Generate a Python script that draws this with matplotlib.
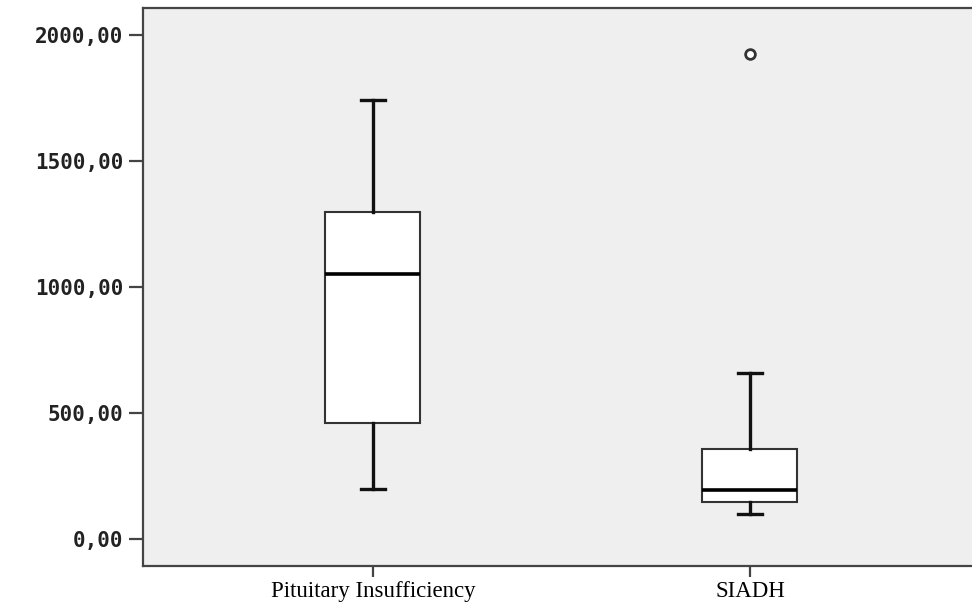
import matplotlib
matplotlib.use('Agg')
import matplotlib.pyplot as plt
from matplotlib.ticker import FuncFormatter

# groups and box statistics
groups = ['Pituitary Insufficiency', 'SIADH']
whislo = [200, 99]
q1 = [460, 146]
med = [1050, 193]
q3 = [1296, 358]
whishi = [1742, 658]
outliers = [[], [1925]]
yticks = [0, 500, 1000, 1500, 2000]

stats = []
for i in range(len(groups)):
    stats.append(dict(label=groups[i], whislo=whislo[i], q1=q1[i], med=med[i],
                      q3=q3[i], whishi=whishi[i], fliers=outliers[i]))

fig = plt.figure(figsize=(9.72, 6.10), dpi=100)
# axes in pixel terms: left 143, top 8, bottom 566, right runs off the image
ax = fig.add_axes([143/972, (610-566)/610, (972-143)/972, (566-8)/610])
ax.set_facecolor('#efefef')

ax.bxp(stats, positions=[0, 1], widths=0.252, patch_artist=True,
       showcaps=True, capwidths=0.063,
       boxprops=dict(facecolor='white', edgecolor='#333333', linewidth=1.5),
       medianprops=dict(color='black', linewidth=2.6),
       whiskerprops=dict(color='#111111', linewidth=2.4),
       capprops=dict(color='#111111', linewidth=2.4),
       flierprops=dict(marker='o', markersize=7, markerfacecolor='white',
                       markeredgecolor='#333333', markeredgewidth=2))

ax.set_xlim(-0.610, 1.589)
ax.set_ylim(-107, 2107)
ax.set_yticks(yticks)
ax.yaxis.set_major_formatter(FuncFormatter(lambda v, p: ('%.2f' % v).replace('.', ',')))

for s in ['top', 'right']:
    ax.spines[s].set_visible(False)
for s in ['left', 'bottom']:
    ax.spines[s].set_color('#444444')
    ax.spines[s].set_linewidth(1.6)
ax.plot([-0.610, 1.589], [2107, 2107], color='#444444', lw=1.6, clip_on=False)

ax.tick_params(axis='y', direction='out', length=10, width=1.6, color='#444444', pad=4)
ax.tick_params(axis='x', direction='out', length=8, width=1.6, color='#444444', pad=3)
for lab in ax.get_yticklabels():
    lab.set_fontfamily('DejaVu Sans Mono')
    lab.set_fontweight('bold')
    lab.set_fontsize(15)
    lab.set_color('#222222')
for lab in ax.get_xticklabels():
    lab.set_fontfamily('Liberation Serif')
    lab.set_fontsize(16.5)
    lab.set_color('black')

plt.savefig('out.png', dpi=100)
